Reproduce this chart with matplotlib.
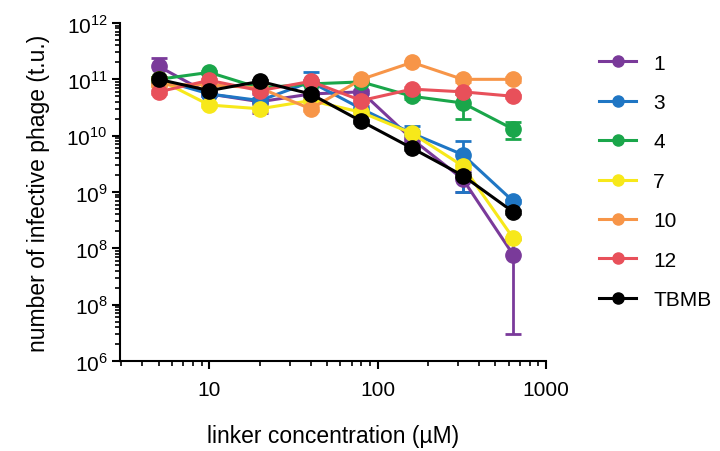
"""
Phage infectivity vs linker concentration, log-log dose curves with SD error bars.
"""

import matplotlib
matplotlib.use("Agg")
import matplotlib.pyplot as plt
from matplotlib.lines import Line2D
from matplotlib.ticker import LogLocator, FixedLocator, FixedFormatter, NullFormatter

plt.rcParams['font.family'] = ['Liberation Sans', 'DejaVu Sans']
plt.rcParams['mathtext.fontset'] = 'custom'
plt.rcParams['mathtext.rm'] = 'Liberation Sans'

# linker concentrations (uM)
conc = [5, 10, 20, 40, 80, 160, 320, 640]

# infective phage (t.u.) per linker
labels = ['1', '3', '4', '7', '10', '12', 'TBMB']
phage_1 = [1.7e11, 5.5e10, 4.0e10, 5.5e10, 6.0e10, 8.7e9, 1.7e9, 7.6e7]
phage_3 = [1.0e11, 5.5e10, 4.2e10, 9.0e10, 3.0e10, 1.1e10, 4.6e9, 6.8e8]
phage_4 = [1.0e11, 1.33e11, 7.0e10, 8.3e10, 9.0e10, 5.0e10, 3.8e10, 1.3e10]
phage_7 = [1.0e11, 3.5e10, 3.0e10, 4.2e10, 2.6e10, 1.1e10, 2.9e9, 1.5e8]
phage_10 = [8.0e10, 8.0e10, 7.0e10, 3.0e10, 1.0e11, 2.0e11, 1.0e11, 1.0e11]
phage_12 = [6.0e10, 9.6e10, 6.3e10, 9.2e10, 4.2e10, 6.7e10, 6.0e10, 5.0e10]
phage_tbmb = [1.0e11, 6.3e10, 9.2e10, 5.5e10, 1.8e10, 6.0e9, 1.96e9, 4.4e8]

# standard deviations
sd_1 = [7.0e10, 5e9, 1.5e10, 5e9, 5e9, 1e9, 7e8, 7.3e7]
sd_3 = [1e10, 5e9, 5e9, 4.5e10, 3e9, 4e9, 3.6e9, 5e7]
sd_4 = [1e10, 1e10, 5e9, 5e9, 5e9, 5e9, 1.8e10, 4.2e9]
sd_7 = [1e10, 3e9, 3e9, 3e9, 2e9, 1e9, 3e8, 1e7]
sd_10 = [5e9, 5e9, 5e9, 3e9, 1e10, 1.5e10, 1e10, 1e10]
sd_12 = [5e9, 5e9, 5e9, 5e9, 3e9, 5e9, 5e9, 3e9]
sd_tbmb = [1e10, 5e9, 5e9, 5e9, 1e9, 5e8, 2e8, 3e7]

series = [phage_1, phage_3, phage_4, phage_7, phage_10, phage_12, phage_tbmb]
errors = [sd_1, sd_3, sd_4, sd_7, sd_10, sd_12, sd_tbmb]
colours = ['#7a3a9a', '#1f76c4', '#1aa64a', '#f7e81a', '#f79548', '#e8505a', '#000000']

y_ticks = [1e6, 1e7, 1e8, 1e9, 1e10, 1e11, 1e12]
y_tick_labels = ['$10^{6}$', '$10^{8}$', '$10^{8}$', '$10^{9}$',
                 '$10^{10}$', '$10^{11}$', '$10^{12}$']

fig = plt.figure(figsize=(7.2, 4.52), dpi=100)
ax = fig.add_axes([0.1667, 0.1991, 0.5917, 0.7478])

for vals, err, col in zip(series, errors, colours):
    ax.errorbar(conc, vals, yerr=err, color=col, ecolor=col, linewidth=2.2,
                elinewidth=2.0, capsize=6, capthick=2.0, marker='o',
                markersize=11)

ax.set_xscale('log')
ax.set_yscale('log')
ax.set_xlim(2.95, 1000)
ax.set_ylim(1e6, 1e12)

ax.xaxis.set_major_locator(FixedLocator([10, 100, 1000]))
ax.xaxis.set_major_formatter(FixedFormatter(['10', '100', '1000']))
ax.xaxis.set_minor_locator(LogLocator(base=10, subs=range(2, 10)))
ax.xaxis.set_minor_formatter(NullFormatter())

ax.yaxis.set_major_locator(FixedLocator(y_ticks))
ax.yaxis.set_major_formatter(FixedFormatter(y_tick_labels))
ax.yaxis.set_minor_locator(LogLocator(base=10, subs=range(2, 10)))
ax.yaxis.set_minor_formatter(NullFormatter())

for side in ['top', 'right']:
    ax.spines[side].set_visible(False)
for side in ['left', 'bottom']:
    ax.spines[side].set_linewidth(1.5)

ax.tick_params(axis='both', which='major', length=6, width=1.5, labelsize=15)
ax.tick_params(axis='both', which='minor', length=3.5, width=1.2)
ax.tick_params(axis='x', which='major', pad=8)
ax.tick_params(axis='y', which='major', pad=3)

ax.set_xlabel('linker concentration (\u00b5M)', fontsize=16.5, labelpad=18)
ax.set_ylabel('number of infective phage (t.u.)', fontsize=16.5, labelpad=12)

# legend shows plain line + dot, no error bar glyph
handles = [Line2D([], [], color=c, linewidth=2.2, marker='o', markersize=8)
           for c in colours]
ax.legend(handles, labels, loc='upper left', bbox_to_anchor=(1.08, 0.965),
          frameon=False, fontsize=15, handlelength=1.8, handletextpad=0.8,
          labelspacing=0.98)

plt.savefig('out.png', dpi=100)
